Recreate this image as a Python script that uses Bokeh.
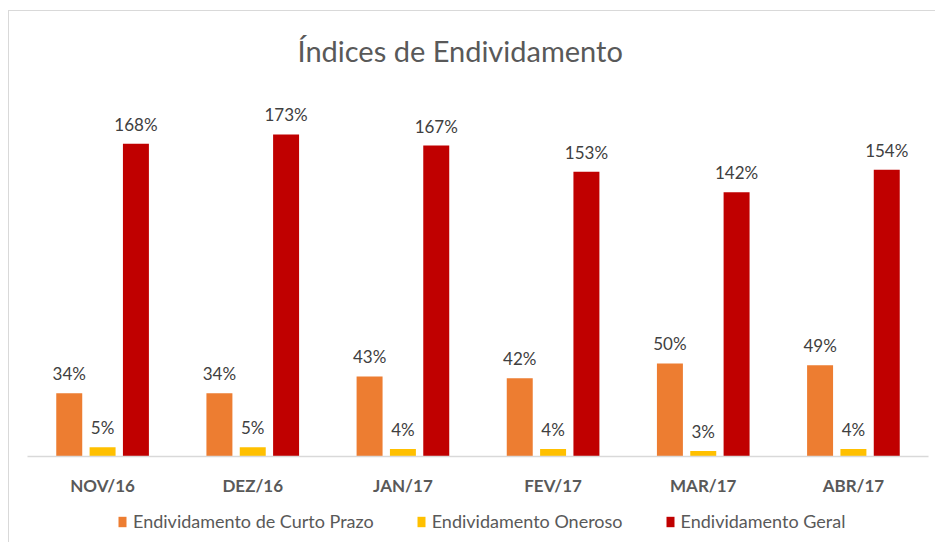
from bokeh.plotting import figure
from bokeh.models import ColumnDataSource, Legend, LegendItem, FactorRange
from bokeh.layouts import column
from bokeh.transform import dodge
from bokeh.core.properties import value
from bokeh.embed import file_html
from bokeh.resources import INLINE

# ---- data ----
meses = ["NOV/16", "DEZ/16", "JAN/17", "FEV/17", "MAR/17", "ABR/17"]
curto_prazo = [34, 34, 43, 42, 50, 49]
oneroso = [5, 5, 4, 4, 3, 4]
geral = [168, 173, 167, 153, 142, 154]
series_nomes = ["Endividamento de Curto Prazo", "Endividamento Oneroso", "Endividamento Geral"]
cores = ["#ED7D31", "#FFC000", "#C00000"]

FONT = "Lato"

src = ColumnDataSource(dict(
    mes=meses,
    curto=curto_prazo,
    oner=oneroso,
    geral=geral,
    curto_lbl=[f"{v}%" for v in curto_prazo],
    oner_lbl=[f"{v}%" for v in oneroso],
    geral_lbl=[f"{v}%" for v in geral],
))

p = figure(
    x_range=FactorRange(*meses, range_padding=0),
    y_range=(0, 198.2),
    width=926, height=489,
    output_backend="svg", toolbar_location=None,
    min_border_left=18, min_border_right=7, min_border_top=0, min_border_bottom=44,
)
p.outline_line_color = None
p.xgrid.grid_line_color = None
p.ygrid.grid_line_color = None
p.yaxis.visible = False

p.title.text = "Índices de Endividamento"
p.title.align = "left"
p.title.offset = 270
p.title.text_font = FONT
p.title.text_font_style = "normal"
p.title.text_font_size = "29px"
p.title.text_color = "#595959"
p.title.standoff = 39

W = 0.173
OFF = 0.222
cols = [("curto", "curto_lbl", -OFF), ("oner", "oner_lbl", 0.0), ("geral", "geral_lbl", OFF)]
for (col, lbl, off), cor in zip(cols, cores):
    p.vbar(x=dodge("mes", off, range=p.x_range), top=col, width=W, bottom=0,
           source=src, fill_color=cor, line_color=None)
    p.text(x=dodge("mes", off, range=p.x_range), y=col, text=lbl, source=src,
           text_align="center", text_baseline="bottom", y_offset=-9,
           text_font=value(FONT), text_font_size="17px", text_color="#404040")

ax = p.xaxis[0]
ax.axis_line_color = "#d9d9d9"
ax.axis_line_width = 1.5
ax.major_tick_line_color = None
ax.minor_tick_line_color = None
ax.major_label_text_font = FONT
ax.major_label_text_font_style = "bold"
ax.major_label_text_font_size = "17px"
ax.major_label_text_color = "#595959"
ax.major_label_standoff = 12

# legend strip below the chart (zero-size bars that only supply the legend swatches)
pl = figure(
    width=926, height=42, x_range=FactorRange(*meses), y_range=(-2, -1),
    output_backend="svg", toolbar_location=None,
    x_axis_type=None, y_axis_type=None,
    min_border_left=0, min_border_right=0, min_border_top=0, min_border_bottom=0,
)
pl.outline_line_color = None
pl.xgrid.grid_line_color = None
pl.ygrid.grid_line_color = None
leg_r = [pl.vbar(x="mes", top=col, bottom=col, width=0, source=src,
                 fill_color=c, line_color=None)
         for (col, _, _), c in zip(cols, cores)]
legend = Legend(
    items=[LegendItem(label=n, renderers=[r]) for n, r in zip(series_nomes, leg_r)],
    orientation="horizontal", location=(90, 10),
    label_text_font=FONT, label_text_font_size="18px", label_text_color="#595959",
    glyph_width=10, glyph_height=13, spacing=42, label_standoff=6,
    border_line_color=None, background_fill_alpha=0, margin=0, padding=0,
)
pl.add_layout(legend, "center")

layout = column(p, pl, spacing=0)
layout.styles = {"margin-left": "8px", "margin-top": "10px",
                 "border-top": "1px solid #d9d9d9", "border-left": "1px solid #d9d9d9"}

open("out.html", "w").write(file_html(layout, INLINE))
